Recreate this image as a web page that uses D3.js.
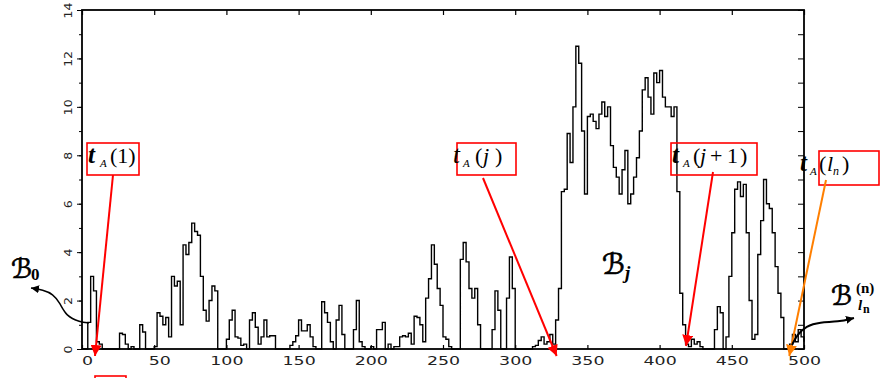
<!DOCTYPE html>
<html><head><meta charset="utf-8">
<script src="https://cdn.jsdelivr.net/npm/d3@7"></script>
<style>body{margin:0;background:#fff}svg{display:block}</style>
</head><body>
<svg id="chart" width="881" height="378"></svg>
<script>
// ---- data ----
const sampleStep = 2; // one value every 2 time units, 0..500
const values = [
 0,0,1.1,3.0,2.4,0.3,0.2,0,0,0,
 0,0,0,0.65,0.6,0.2,0,0.1,0,0,
 1.0,0.7,0,0,0,0.1,1.5,1.35,1.0,1.3,
 0.5,3.0,2.6,2.8,1.0,4.3,3.9,4.4,5.2,4.85,
 4.7,3.0,1.6,1.15,2.0,2.6,2.4,0,0,0,
 0.4,1.2,1.6,0.5,0.45,0.15,0.2,0,1.2,1.5,
 0.9,0.2,0.5,1.2,0.5,0.55,0.55,0,0,0,
 0,0,0.15,0.3,0.55,1.2,0.75,0.75,1.0,0.5,
 0.1,0,0,1.95,1.5,1.1,0.3,0,1.2,1.8,
 0.6,0,0,0,0.8,2.0,0.3,0.1,0,0,
 0.1,0,0.8,0.8,1.1,0,0.2,0,0.1,0.1,
 0.5,0.55,0.5,0.65,0.2,1.35,1.3,1.0,0.3,2.1,
 2.9,4.3,3.5,2.5,1.8,0.5,0.4,0.1,0,0,
 0,3.7,4.4,3.6,2.5,2.1,2.5,1.0,0,0,
 0,0,0.8,2.4,1.6,0,0,2.1,3.8,2.5,
 0,0,0,0,0,0,0.1,0.15,0.35,0.5,
 0.2,0.3,0.6,0.2,1.2,2.5,6.5,6.6,8.9,7.7,
 10.0,12.5,11.8,9.0,6.4,9.6,9.7,9.4,9.1,9.7,
 10.2,9.6,10.0,8.4,7.5,7.1,6.4,7.4,8.2,6.0,
 6.4,7.1,7.9,9.0,10.7,11.2,10.4,9.7,11.4,11.0,
 11.5,10.4,10.0,10.0,9.6,10.0,6.5,2.3,1.0,0.2,
 0.1,0.4,0.2,0.3,0.1,0,0,0,0,0.8,
 1.75,1.5,0,0.5,3.0,4.8,6.6,6.9,6.3,6.8,
 4.8,2.0,0.4,0.6,3.9,5.3,7.0,6.0,5.8,4.8,
 3.4,2.3,1.3,0,0,0.2,0.6,0.3,0.8,0.5,
 0.3
];
const xTicks = [0,50,100,150,200,250,300,350,400,450,500];
const yTicks = [0,2,4,6,8,10,12,14];
const yUnitTicks = [0,1,2,3,4,5,6,7,8,9,10,11,12,13,14];
// boundary times marked by the annotations (x in data units)
const markTimes = [9, 328.7, 418.3, 489.8];

// ---- drawing ----
const svg = d3.select("#chart");
const W = 881, H = 378;
const mL = 82, mR = 804, mT = 10, mB = 349;
const x = d3.scaleLinear().domain([0,500]).range([mL,mR]);
const y = d3.scaleLinear().domain([0,14]).range([mB,mT]);

svg.append("rect").attr("width",W).attr("height",H).attr("fill","#fff");

const defs = svg.append("defs");
function marker(id,color,size){
  defs.append("marker").attr("id",id).attr("viewBox","0 0 10 10")
    .attr("refX",10).attr("refY",5).attr("markerUnits","userSpaceOnUse")
    .attr("markerWidth",size).attr("markerHeight",size).attr("orient","auto")
    .append("path").attr("d","M0,0 L10,5 L0,10 z").attr("fill",color);
}
marker("arRed","#ff0000",11);
marker("arOrange","#ff7f00",11);
marker("arBlack","#000",8);

// data line
const pts = values.map((v,i)=>[i*sampleStep, v]);
const line = d3.line().x(d=>x(d[0])).y(d=>y(d[1])).curve(d3.curveStepAfter);
svg.append("path").datum(pts).attr("d",line).attr("fill","none")
  .attr("stroke","#000").attr("stroke-width",1.4);

// axes
const fontAx = "DejaVu Sans, sans-serif";
const gB = svg.append("g").attr("transform",`translate(0,${mB})`)
  .call(d3.axisBottom(x).tickValues(xTicks).tickSizeInner(-4).tickSizeOuter(0).tickPadding(7));
gB.select(".domain").remove();
gB.selectAll("line").attr("stroke","#000").attr("stroke-width",1.2);
gB.selectAll("text").attr("font-family",fontAx).attr("font-size",12).attr("fill","#222")
  .attr("transform",d=>`translate(${String(d).length<3?5:0},0) scale(1.45,1)`);

const gT = svg.append("g").attr("transform",`translate(0,${mT})`)
  .call(d3.axisTop(x).tickValues(xTicks).tickSizeInner(-5).tickSizeOuter(0).tickFormat(""));
gT.select(".domain").remove();
gT.selectAll("line").attr("stroke","#000").attr("stroke-width",1.2);

const gL = svg.append("g").attr("transform",`translate(${mL},0)`)
  .call(d3.axisLeft(y).tickValues(yTicks).tickSizeInner(5).tickSizeOuter(0).tickPadding(0));
gL.select(".domain").remove();
gL.selectAll("line").attr("stroke","#000").attr("stroke-width",1);
gL.selectAll("text").attr("font-family",fontAx).attr("font-size",10).attr("fill","#222")
  .attr("x",0).attr("dy",0).attr("text-anchor","middle")
  .attr("transform","translate(-10,0) rotate(-90) scale(1.25,1)");

const gLm = svg.append("g").attr("transform",`translate(${mL},0)`)
  .call(d3.axisLeft(y).tickValues(yUnitTicks).tickSizeInner(3).tickSizeOuter(0).tickFormat(""));
gLm.select(".domain").remove();
gLm.selectAll("line").attr("stroke","#000").attr("stroke-width",1);

const gR = svg.append("g").attr("transform",`translate(${mR},0)`)
  .call(d3.axisRight(y).tickValues(yUnitTicks).tickSizeInner(-6).tickSizeOuter(0).tickFormat(""));
gR.select(".domain").remove();
gR.selectAll("line").attr("stroke","#000").attr("stroke-width",1);

// frame
svg.append("rect").attr("x",mL).attr("y",mT).attr("width",mR-mL).attr("height",mB-mT)
  .attr("fill","none").attr("stroke","#000").attr("stroke-width",1.8);

// ---- annotations ----
const serif = "Liberation Serif, Times New Roman, serif";
function piece(px,py,txt,size,opts={}){
  return svg.append("text").attr("x",px).attr("y",py).text(txt)
    .attr("font-family",serif).attr("font-size",size)
    .attr("font-style",opts.it?"italic":"normal").attr("font-weight",opts.b?"bold":"normal")
    .attr("fill","#000");
}
function box(x0,y0,w,h){
  svg.append("rect").attr("x",x0).attr("y",y0).attr("width",w).attr("height",h)
    .attr("fill","none").attr("stroke","#ff0000").attr("stroke-width",1.6);
}
function arrow(x0,y0,x1,y1,id,color){
  svg.append("line").attr("x1",x0).attr("y1",y0).attr("x2",x1).attr("y2",y1)
    .attr("stroke",color).attr("stroke-width",2).attr("marker-end",`url(#${id})`);
}
const tipY = mB + 7;

// t_A(1)
box(87,143,52,32);
piece(88,163,"t",25,{it:true,b:true});
piece(100,167,"A",11,{it:true});
piece(110,163,"(1)",22);
arrow(113,175,x(markTimes[0]),tipY,"arRed","#ff0000");

// t_A(j)
box(457,143,59,32);
piece(453,163,"t",25,{it:true});
piece(463,167,"A",11,{it:true});
piece(475,163,"(",22);
piece(483,163,"j",22,{it:true});
piece(495,163,")",22);
arrow(483,178,x(markTimes[1]),tipY,"arRed","#ff0000");

// t_A(j+1)
box(671,143,86,32);
piece(672,163,"t",25,{it:true,b:true});
piece(683,167,"A",11,{it:true});
piece(693,163,"(",22);
piece(700,163,"j",22,{it:true});
piece(710,163,"+",22);
piece(727,163,"1",22);
piece(740,163,")",22);
arrow(713,172,x(markTimes[2]),tipY-10,"arRed","#ff0000");

// t_A(l_n)
box(819,151,60,34);
piece(800,171,"t",25,{it:true,b:true});
piece(810,175,"A",11,{it:true});
piece(819,171,"(",22);
piece(827,171,"l",22,{it:true});
piece(833,175,"n",12,{it:true});
piece(842,171,")",22);
arrow(826,180,x(markTimes[3]),tipY,"arOrange","#ff7f00");

// partial red box at bottom edge
box(95,376,31,12);

// B labels
const scr = "DejaVu Serif, DejaVu Sans, serif";
function blabel(px,py,size){
  return svg.append("text").attr("x",px).attr("y",py).text("\u212C")
    .attr("font-family",scr).attr("font-size",size).attr("font-style","italic")
    .attr("fill","#000").attr("stroke","#000").attr("stroke-width",0.7);
}
blabel(11,278,27);
svg.append("text").attr("x",31).attr("y",280).text("0").attr("font-family",serif)
  .attr("font-size",17).attr("font-weight","bold");

blabel(602,274,29);
svg.append("text").attr("x",625).attr("y",279).text("j").attr("font-family",serif)
  .attr("font-size",19).attr("font-weight","bold").attr("font-style","italic");

blabel(831,305,27);
svg.append("text").attr("x",856).attr("y",293).text("(n)").attr("font-family",serif)
  .attr("font-size",15).attr("font-weight","bold");
svg.append("text").attr("x",858).attr("y",310).text("l").attr("font-family",serif)
  .attr("font-size",15).attr("font-weight","bold").attr("font-style","italic");
svg.append("text").attr("x",863).attr("y",313).text("n").attr("font-family",serif)
  .attr("font-size",12).attr("font-weight","bold");

// curved black arrows
const curve = d3.line().curve(d3.curveBasis);
svg.append("path").attr("d",curve([[89,323],[80,322],[66,316],[60,303],[53,294],[43,290],[31,288]]))
  .attr("fill","none").attr("stroke","#000").attr("stroke-width",1.5).attr("marker-end","url(#arBlack)");
svg.append("path").attr("d",curve([[792,345],[797,335],[806,326],[820,322],[838,322],[854,318]]))
  .attr("fill","none").attr("stroke","#000").attr("stroke-width",2).attr("marker-end","url(#arBlack)");
</script>
</body></html>
